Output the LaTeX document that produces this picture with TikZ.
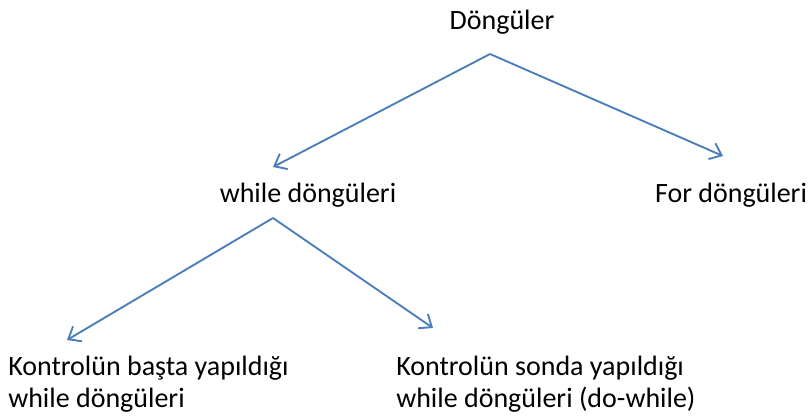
\documentclass[tikz,border=0pt]{standalone}
\usepackage{fontspec}
\setmainfont{Carlito}
\usetikzlibrary{arrows.meta}

\definecolor{linkblue}{HTML}{4A7EBB}

\begin{document}
\begin{tikzpicture}[x=0.75pt,y=-0.75pt]
\useasboundingbox (0,0) rectangle (809,418);

\begin{scope}[every node/.style={inner sep=0pt,font=\fontsize{21}{24}\selectfont}]
    \node[anchor=base] (root)  at (502,29)  {Döngüler};
    \node[anchor=base] (while) at (308,202) {while döngüleri};
    \node[anchor=base] (for)   at (731,202) {For döngüleri};
    % base of a two-line node is its last line
    \node[anchor=base west,align=left] (pre)  at (8,407)   {Kontrolün başta yapıldığı\\while döngüleri};
    \node[anchor=base west,align=left] (post) at (396,407) {Kontrolün sonda yapıldığı\\while döngüleri (do-while)};
\end{scope}

% arrow ends
\coordinate (r0) at (490,54);
\coordinate (r1) at (273,167);
\coordinate (r2) at (723,156);
\coordinate (w0) at (273,218);
\coordinate (w1) at (67,340);
\coordinate (w2) at (433,328);

\begin{scope}[>={Straight Barb[length=8pt,width=13pt]},
              every path/.style={draw=linkblue,line width=1.4pt}]
    \path [->] (r0) -- (r1);
    \path [->] (r0) -- (r2);

    \path [->] (w0) -- (w1);
    \path [->] (w0) -- (w2);
\end{scope}
\end{tikzpicture}
\end{document}
